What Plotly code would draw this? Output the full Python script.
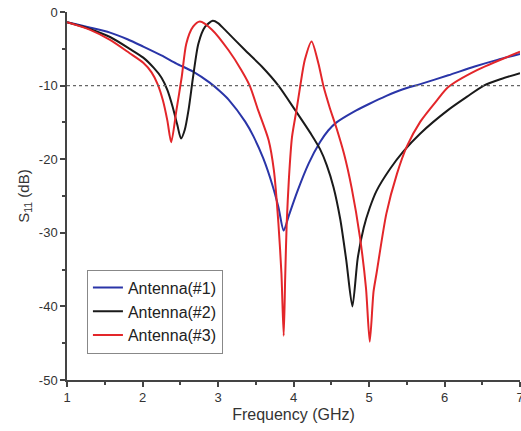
import plotly.graph_objects as go

freq1 = [1.0, 1.3, 1.57, 1.8, 2.01, 2.25, 2.45, 2.67, 2.89, 3.03, 3.14, 3.36, 3.47, 3.6, 3.72, 3.8, 3.87,
         3.94, 4.05, 4.2, 4.35, 4.46, 4.57, 4.79, 5.0, 5.23, 5.45, 5.68, 6.05, 6.4, 6.7, 7.0]
s11_1 = [-1.4, -2.1, -2.8, -3.7, -4.7, -5.9, -7.0, -8.1, -9.6, -10.8, -11.9, -14.9, -16.9, -19.9, -23.5, -26.5, -29.7,
         -27.6, -24.4, -20.6, -17.7, -16.1, -15.0, -13.6, -12.5, -11.4, -10.5, -9.8, -8.6, -7.4, -6.5, -5.7]

freq2 = [1.0, 1.3, 1.57, 1.83, 2.01, 2.15, 2.25, 2.33, 2.4, 2.46, 2.51, 2.56, 2.61, 2.67, 2.74, 2.83, 2.93, 3.0, 3.09,
         3.36, 3.58, 3.8, 4.02, 4.24, 4.35, 4.44, 4.53, 4.62, 4.7, 4.78, 4.85, 4.93, 5.01, 5.1, 5.28, 5.45, 5.68,
         6.05, 6.3, 6.52, 6.75, 7.0]
s11_2 = [-1.4, -2.3, -3.4, -5.0, -6.2, -7.6, -8.9, -10.6, -12.9, -15.3, -17.2, -16.0, -13.3, -8.8, -4.3, -2.0, -1.2, -1.5, -2.4,
         -5.2, -7.4, -10.0, -13.3, -16.7, -18.6, -20.8, -23.8, -28.2, -33.8, -40.0, -33.5, -29.3, -26.6, -24.3, -21.3, -19.0, -16.5,
         -13.3, -11.5, -10.0, -9.1, -8.3]

freq3 = [1.0, 1.3, 1.57, 1.83, 2.01, 2.12, 2.2, 2.27, 2.33, 2.38, 2.45, 2.52, 2.58, 2.67, 2.76, 2.92, 3.14, 3.31, 3.42,
         3.53, 3.67, 3.74, 3.8, 3.84, 3.87, 3.89, 3.91, 3.94, 3.98, 4.04, 4.09, 4.15, 4.24, 4.33, 4.4, 4.48, 4.57,
         4.67, 4.77, 4.88, 4.96, 5.01, 5.06, 5.1, 5.23, 5.37, 5.5, 5.68, 5.9, 6.05, 6.43, 7.0]
s11_3 = [-1.4, -2.4, -3.8, -5.6, -6.9, -8.2, -9.8, -12.0, -14.8, -17.7, -13.3, -8.8, -4.3, -2.0, -1.3, -2.4, -5.2, -7.9, -10.0,
         -13.3, -17.4, -21.5, -28.7, -35.5, -44.0, -36.0, -28.7, -22.5, -17.0, -13.3, -10.0, -6.5, -4.0, -7.0, -10.2, -13.0, -15.8,
         -19.3, -23.9, -30.6, -37.5, -44.8, -38.0, -35.5, -27.4, -22.0, -18.3, -14.9, -12.0, -10.2, -7.9, -5.4]

names = ["Antenna(#1)", "Antenna(#2)", "Antenna(#3)"]
colors = ["#2a35a8", "#1a1a1a", "#e3262a"]

x_tickvals = [1, 2, 3, 4, 5, 6, 7]
x_ticktext = ["1", "2", "3", "4", "5", "6", "7"]
y_tickvals = [0, -10, -20, -30, -40, -50]
y_ticktext = ["0", "-10", "-20", "-30", "-40", "-50"]

fig = go.Figure()
for f, s, n, c in zip([freq1, freq2, freq3], [s11_1, s11_2, s11_3], names, colors):
    fig.add_trace(go.Scatter(x=f, y=s, mode="lines", name=n,
                             line=dict(color=c, width=2, shape="spline", smoothing=0.7)))

fig.add_shape(type="line", xref="paper", yref="y", x0=0, x1=1, y0=-10, y1=-10,
              line=dict(color="#666666", width=1.2, dash="dot"))

axis_common = dict(showline=True, linecolor="#444444", linewidth=1.5, ticks="outside",
                   ticklen=5, tickwidth=1.5, tickcolor="#444444", showgrid=False, zeroline=False,
                   tickfont=dict(size=13, color="#333333", family="Arial"),
                   mirror=False, ticklabeloverflow="allow", automargin=False)

fig.update_layout(
    width=521, height=431,
    margin=dict(l=67, r=1, t=12, b=51),
    paper_bgcolor="white", plot_bgcolor="white",
    font=dict(family="Arial", color="#333333"),
    xaxis=dict(range=[1, 7], tickmode="array", tickvals=x_tickvals, ticktext=x_ticktext,
               minor=dict(dtick=0.5, tick0=1, ticks="outside", ticklen=3, tickcolor="#444444"),
               title=dict(text="Frequency (GHz)", font=dict(size=16), standoff=4),
               **axis_common),
    yaxis=dict(range=[-50, 0], tickmode="array", tickvals=y_tickvals, ticktext=y_ticktext,
               minor=dict(dtick=5, tick0=0, ticks="outside", ticklen=3, tickcolor="#444444"),
               title=dict(text="S<sub>11</sub> (dB)", font=dict(size=15), standoff=6),
               **axis_common),
    legend=dict(x=0.044, y=0.3, xanchor="left", yanchor="top",
                bgcolor="white", bordercolor="#888888", borderwidth=1,
                font=dict(size=16, color="#222222"), tracegroupgap=0),
    showlegend=True,
)

fig.write_html("out.html")
